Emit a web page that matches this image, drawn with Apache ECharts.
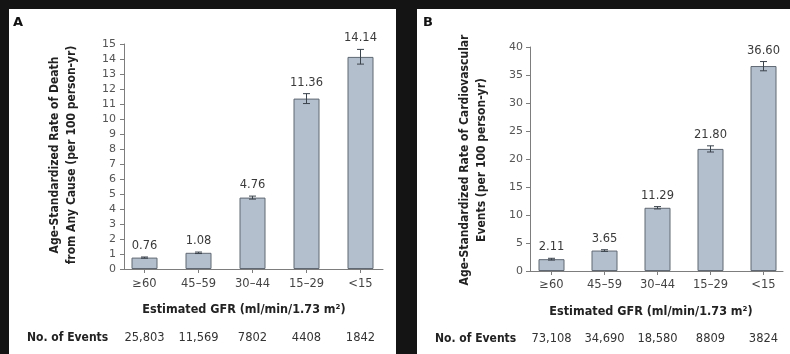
<!DOCTYPE html>
<html>
<head>
<meta charset="utf-8">
<script src="https://cdn.jsdelivr.net/npm/echarts@6/dist/echarts.min.js"></script>
<style>
  html, body { margin: 0; padding: 0; background: #141414; width: 790px; height: 354px; overflow: hidden; }
  .panel { position: absolute; background: #ffffff; }
  #panelA { left: 9px; top: 9px; width: 387px; height: 345px; }
  #panelB { left: 417px; top: 9px; width: 373px; height: 345px; }
</style>
</head>
<body>
<div id="panelA" class="panel"></div>
<div id="panelB" class="panel"></div>
<script>
// GFR categories shared by both panels
const categories = ['≥60', '45–59', '30–44', '15–29', '<15'];

// Panel A: death from any cause (per 100 person-yr) with 95% CI
const deathRate = [0.76, 1.08, 4.76, 11.36, 14.14];
const deathLow  = [0.72, 1.03, 4.66, 11.03, 13.66];
const deathHigh = [0.80, 1.13, 4.86, 11.69, 14.64];
const deathEvents = ['25,803', '11,569', '7802', '4408', '1842'];
const deathTicks = { max: 15, interval: 1 };

// Panel B: cardiovascular events (per 100 person-yr) with 95% CI
const cvdRate = [2.11, 3.65, 11.29, 21.80, 36.60];
const cvdLow  = [1.95, 3.50, 11.08, 21.25, 35.75];
const cvdHigh = [2.27, 3.80, 11.50, 22.35, 37.40];
const cvdEvents = ['73,108', '34,690', '18,580', '8809', '3824'];
const cvdTicks = { max: 40, interval: 5 };

const SANS = '"DejaVu Sans", "Noto Sans", sans-serif';
const SANS_BOLD = '"DejaVu Sans Condensed", "DejaVu Sans", "Noto Sans", sans-serif';
const BAR_FILL = '#b4bfcd';
const BAR_EDGE = '#5f6873';
const AXIS_COLOR = '#7d7d7d';

function buildPanel(el, cfg) {
  const chart = echarts.init(el, null, { renderer: 'canvas' });
  const errData = categories.map((c, i) => [i, cfg.rate[i], cfg.low[i], cfg.high[i]]);

  const option = {
    animation: false,
    grid: [
      { left: cfg.barGrid.left, top: cfg.top, width: cfg.barGrid.width, height: cfg.height },
      { left: cfg.axisGrid.left, top: cfg.top, width: cfg.axisGrid.width, height: cfg.height }
    ],
    xAxis: [
      {
        type: 'category', gridIndex: 0, data: categories,
        axisLine: { show: false },
        axisTick: { show: true, alignWithLabel: true, length: 4, lineStyle: { color: AXIS_COLOR } },
        axisLabel: { margin: cfg.catMargin, fontFamily: SANS, fontSize: 11.5, color: '#444' }
      },
      {
        type: 'category', gridIndex: 0, data: cfg.events, position: 'bottom',
        axisLine: { show: false }, axisTick: { show: false },
        axisLabel: { margin: cfg.eventsMargin, fontFamily: SANS, fontSize: 11.5, color: '#333' }
      },
      {
        type: 'value', gridIndex: 1, min: 0, max: 1,
        axisLine: { show: true, lineStyle: { color: AXIS_COLOR, width: 1 } },
        axisTick: { show: false }, axisLabel: { show: false }, splitLine: { show: false }
      }
    ],
    yAxis: [
      {
        type: 'value', gridIndex: 0, min: 0, max: cfg.ticks.max, interval: cfg.ticks.interval,
        show: false, splitLine: { show: false }
      },
      {
        type: 'value', gridIndex: 1, min: 0, max: cfg.ticks.max, interval: cfg.ticks.interval,
        axisLine: { show: true, lineStyle: { color: AXIS_COLOR, width: 1 } },
        axisTick: { show: true, length: 4, lineStyle: { color: AXIS_COLOR } },
        axisLabel: { margin: cfg.yMargin, fontFamily: SANS, fontSize: 11, color: '#555' },
        splitLine: { show: false }
      }
    ],
    series: [
      {
        type: 'bar', xAxisIndex: 0, yAxisIndex: 0, data: cfg.rate, barWidth: 26,
        itemStyle: { color: BAR_FILL, borderColor: BAR_EDGE, borderWidth: 1 },
        z: 2
      },
      {
        type: 'custom', xAxisIndex: 0, yAxisIndex: 0, data: errData, z: 3,
        renderItem: function (params, api) {
          const i = api.value(0);
          const top = api.coord([i, api.value(3)]);
          const bot = api.coord([i, api.value(2)]);
          const cap = 3.5;
          const ls = { stroke: '#3b434c', lineWidth: 1 };
          return {
            type: 'group',
            children: [
              { type: 'line', shape: { x1: top[0], y1: top[1], x2: bot[0], y2: bot[1] }, style: ls },
              { type: 'line', shape: { x1: top[0] - cap, y1: top[1], x2: top[0] + cap, y2: top[1] }, style: ls },
              { type: 'line', shape: { x1: bot[0] - cap, y1: bot[1], x2: bot[0] + cap, y2: bot[1] }, style: ls },
              {
                type: 'text',
                style: {
                  text: api.value(1).toFixed(2),
                  x: top[0], y: top[1] - 5,
                  align: 'center', verticalAlign: 'bottom',
                  textAlign: 'center', textVerticalAlign: 'bottom',
                  fill: '#3a3a3a', font: '11.5px ' + SANS
                }
              }
            ]
          };
        }
      }
    ],
    graphic: [
      {
        type: 'text', x: cfg.letter.x, y: cfg.letter.y,
        style: { text: cfg.letterText, font: 'bold 13px ' + SANS, fill: '#111', verticalAlign: 'middle', textVerticalAlign: 'middle' }
      },
      {
        type: 'text', x: cfg.yTitle.x1, y: cfg.yTitle.cy, rotation: Math.PI / 2,
        style: { text: cfg.yTitle.line1, font: 'bold 12px ' + SANS_BOLD, fill: '#222',
                 align: 'center', verticalAlign: 'middle', textAlign: 'center', textVerticalAlign: 'middle' }
      },
      {
        type: 'text', x: cfg.yTitle.x2, y: cfg.yTitle.cy, rotation: Math.PI / 2,
        style: { text: cfg.yTitle.line2, font: 'bold 12px ' + SANS_BOLD, fill: '#222',
                 align: 'center', verticalAlign: 'middle', textAlign: 'center', textVerticalAlign: 'middle' }
      },
      {
        type: 'text', x: cfg.xTitle.x, y: cfg.xTitle.y,
        style: { text: 'Estimated GFR (ml/min/1.73 m²)', font: 'bold 12.5px ' + SANS_BOLD, fill: '#222',
                 align: 'center', verticalAlign: 'middle', textAlign: 'center', textVerticalAlign: 'middle' }
      },
      {
        type: 'text', x: cfg.eventsTitle.x, y: cfg.eventsTitle.y,
        style: { text: 'No. of Events', font: 'bold 12px ' + SANS_BOLD, fill: '#222',
                 verticalAlign: 'middle', textVerticalAlign: 'middle' }
      }
    ]
  };
  chart.setOption(option);
  return chart;
}

buildPanel(document.getElementById('panelA'), {
  rate: deathRate, low: deathLow, high: deathHigh, events: deathEvents, ticks: deathTicks,
  top: 35, height: 225,
  barGrid: { left: 108.5, width: 270 },
  axisGrid: { left: 115, width: 259 },
  catMargin: 9, eventsMargin: 63, yMargin: 8,
  letterText: 'A', letter: { x: 4, y: 14 },
  yTitle: { x1: 46, x2: 63, cy: 146,
            line1: 'Age-Standardized Rate of Death',
            line2: 'from Any Cause (per 100 person-yr)' },
  xTitle: { x: 235, y: 301 },
  eventsTitle: { x: 18, y: 329 }
});

buildPanel(document.getElementById('panelB'), {
  rate: cvdRate, low: cvdLow, high: cvdHigh, events: cvdEvents, ticks: cvdTicks,
  top: 38, height: 224,
  barGrid: { left: 108, width: 271 },
  axisGrid: { left: 113, width: 253 },
  catMargin: 8, eventsMargin: 62, yMargin: 7,
  letterText: 'B', letter: { x: 6, y: 14 },
  yTitle: { x1: 48, x2: 65, cy: 151,
            line1: 'Age-Standardized Rate of Cardiovascular',
            line2: 'Events (per 100 person-yr)' },
  xTitle: { x: 234, y: 303 },
  eventsTitle: { x: 18, y: 330 }
});
</script>
</body>
</html>
